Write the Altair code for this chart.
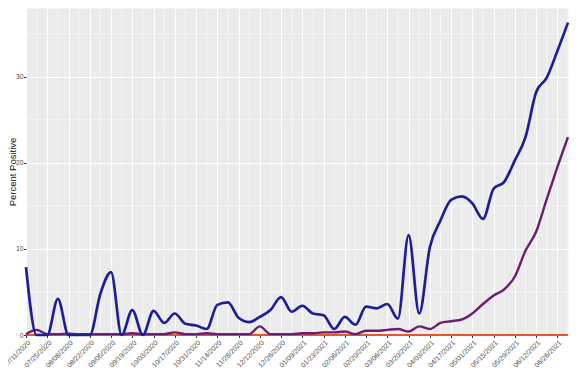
import altair as alt
import pandas as pd

dates = ["2020-07-11", "2020-07-18", "2020-07-25", "2020-08-01", "2020-08-08", "2020-08-15",
         "2020-08-22", "2020-08-29", "2020-09-05", "2020-09-12", "2020-09-19", "2020-09-26",
         "2020-10-03", "2020-10-10", "2020-10-17", "2020-10-24", "2020-10-31", "2020-11-07",
         "2020-11-14", "2020-11-21", "2020-11-28", "2020-12-05", "2020-12-12", "2020-12-19",
         "2020-12-26", "2021-01-02", "2021-01-09", "2021-01-16", "2021-01-23", "2021-01-30",
         "2021-02-06", "2021-02-13", "2021-02-20", "2021-02-27", "2021-03-06", "2021-03-13",
         "2021-03-20", "2021-03-27", "2021-04-03", "2021-04-10", "2021-04-17", "2021-04-24",
         "2021-05-01", "2021-05-08", "2021-05-15", "2021-05-22", "2021-05-29", "2021-06-05",
         "2021-06-12", "2021-06-19", "2021-06-26", "2021-07-03"]

blue_vals = [7.9, 0.0, 0.0, 4.2, 0.0, 0.0, 0.0, 4.8, 7.3, 0.0, 2.9, 0.0,
             2.8, 1.4, 2.5, 1.3, 1.1, 0.7, 3.5, 3.8, 2.0, 1.5, 2.1, 2.9,
             4.4, 2.7, 3.4, 2.5, 2.3, 0.7, 2.1, 1.2, 3.3, 3.1, 3.6, 1.9,
             11.6, 2.5, 10.2, 13.3, 15.7, 16.1, 15.3, 13.5, 17.0, 17.8, 20.3, 23.0,
             28.2, 29.9, 33.0, 36.3]

purple_vals = [0.1, 0.6, 0.1, 0.1, 0.15, 0.1, 0.1, 0.1, 0.1, 0.1, 0.2, 0.1,
               0.1, 0.1, 0.3, 0.1, 0.1, 0.2, 0.1, 0.1, 0.1, 0.1, 1.0, 0.1,
               0.1, 0.1, 0.2, 0.2, 0.3, 0.3, 0.4, 0.1, 0.5, 0.5, 0.6, 0.7,
               0.4, 1.0, 0.7, 1.4, 1.6, 1.8, 2.5, 3.6, 4.6, 5.3, 6.8, 9.8,
               12.0, 15.8, 19.5, 23.0]

red_vals = [0.0, 0.0, 0.0, 0.0, 0.0, 0.0, 0.0, 0.0, 0.0, 0.0, 0.0, 0.0,
            0.0, 0.0, 0.0, 0.0, 0.0, 0.0, 0.0, 0.0, 0.0, 0.0, 0.0, 0.0,
            0.0, 0.0, 0.0, 0.0, 0.0, 0.0, 0.0, 0.0, 0.0, 0.0, 0.0, 0.0,
            0.0, 0.0, 0.0, 0.0, 0.0, 0.0, 0.0, 0.0, 0.0, 0.0, 0.0, 0.0,
            0.0, 0.0, 0.0, 0.0]

tick_dates = ["2020-07-11", "2020-07-25", "2020-08-08", "2020-08-22", "2020-09-05",
              "2020-09-19", "2020-10-03", "2020-10-17", "2020-10-31", "2020-11-14",
              "2020-11-28", "2020-12-12", "2020-12-26", "2021-01-09", "2021-01-23",
              "2021-02-06", "2021-02-20", "2021-03-06", "2021-03-20", "2021-04-03",
              "2021-04-17", "2021-05-01", "2021-05-15", "2021-05-29", "2021-06-12",
              "2021-06-26"]

y_ticks = [0, 10, 20, 30]
y_minor = [5, 15, 25, 35]

series_names = ["Red", "Purple", "Blue"]
series_colors = ["#e4582e", "#6c1f70", "#1e1e96"]
series_widths = [1.8, 2.4, 2.7]

PLOT_W = 542
PLOT_H = 327


def to_ms(lst):
    return [int(pd.Timestamp(d, tz="UTC").value // 10**6) for d in lst]


date_ms = to_ms(dates)
tick_ms = to_ms(tick_dates)
minor_ms = [m for m in date_ms if m not in tick_ms]

frames = []
for name, vals in zip(series_names, [red_vals, purple_vals, blue_vals]):
    frames.append(pd.DataFrame({"date": date_ms, "value": vals, "series": name}))
df = pd.concat(frames, ignore_index=True)

x_enc = alt.X(
    "date:T",
    scale=alt.Scale(type="utc", domain=[date_ms[0], date_ms[-1]], nice=False),
    axis=alt.Axis(
        values=tick_ms, labelExpr="utcFormat(datum.value, '%m/%d/%Y')",
        labelAngle=315, labelAlign="right", labelBaseline="top", labelFontSize=7,
        labelColor="#4d4d4d", labelFont="Liberation Sans", labelPadding=1,
        labelOverlap=False, tickColor="#333333", tickSize=2.5, domain=False,
        grid=True, gridColor="white", gridWidth=1.1, title=None,
    ),
)

y_enc = alt.Y(
    "value:Q",
    scale=alt.Scale(domain=[0, 38], nice=False, zero=True),
    axis=alt.Axis(
        values=y_ticks, title="Percent Positive", titleFontSize=9.5,
        titleFont="Liberation Sans", titleFontWeight="normal", titleColor="#111111",
        titleAngle=270, titleAlign="center", titleBaseline="bottom",
        titleX=-9, titleY=PLOT_H / 2,
        labelFontSize=6.8, labelColor="#4d4d4d",
        labelFont="Liberation Sans", labelPadding=0.5, tickSize=2.5,
        tickColor="#333333", domain=False, grid=True, gridColor="white",
        gridWidth=1.1,
    ),
)

vminor = alt.Chart(pd.DataFrame({"date": minor_ms})).mark_rule(
    color="white", strokeWidth=0.6
).encode(x=x_enc)

hminor = alt.Chart(pd.DataFrame({"value": y_minor})).mark_rule(
    color="white", strokeWidth=0.6
).encode(y=y_enc)

layers = [vminor, hminor]
for name, col, w in zip(series_names, series_colors, series_widths):
    layers.append(
        alt.Chart(df).transform_filter(alt.datum.series == name)
        .mark_line(color=col, strokeWidth=w, interpolate="monotone")
        .encode(x=x_enc, y=y_enc)
    )

chart = alt.layer(*layers).properties(
    width=PLOT_W,
    height=PLOT_H,
    background="white",
    autosize=alt.AutoSizeParams(type="none"),
    padding={"left": 18, "top": 0, "right": 4, "bottom": 50},
).configure_view(fill="#EBEBEB", stroke="transparent")

chart.save("out.html", embed_options={"renderer": "svg", "actions": False})
